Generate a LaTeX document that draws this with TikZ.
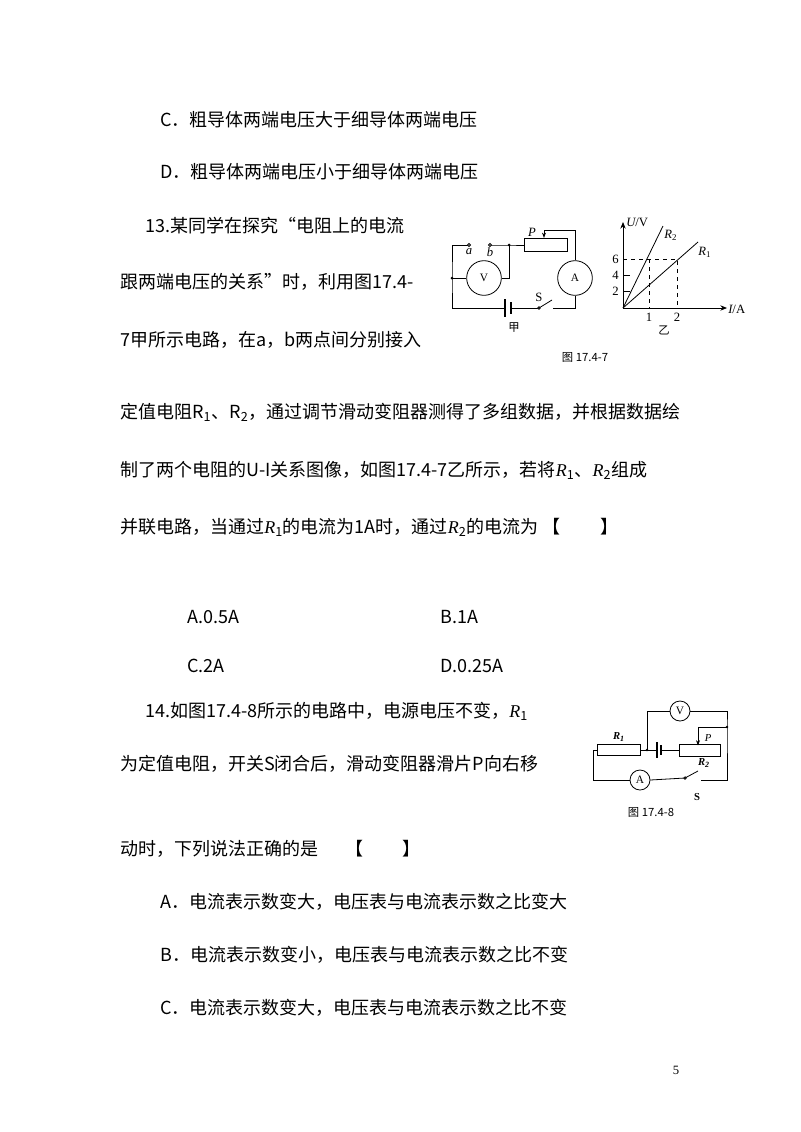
\documentclass[tikz,border=0pt]{standalone}
\usepackage{fontspec}
\setmainfont{Noto Sans CJK SC}
\newfontfamily\lat{Liberation Serif}
\usetikzlibrary{arrows.meta}
\begin{document}
\begin{tikzpicture}[x=0.75pt,y=-0.75pt,
 txt/.style={anchor=west,inner sep=0,font=\fontsize{13.5}{16}\selectfont},
 lab/.style={inner sep=0,font=\lat\fontsize{9.5}{11}\selectfont},
 capt/.style={inner sep=0,font=\fontsize{8.5}{10}\selectfont},
 w/.style={line width=0.6pt},
 meter/.style={circle,draw,line width=0.6pt,inner sep=0,font=\lat\fontsize{8.5}{10}\selectfont}]
\useasboundingbox (0,0) rectangle (800,1132);
\fill[white] (0,0) rectangle (800,1132);
% text
\node[txt] (t1) at (160,120) {C．粗导体两端电压大于细导体两端电压};
\node[txt] (t2) at (160,172) {D．粗导体两端电压小于细导体两端电压};
\node[txt] (t3) at (145,226) {13.某同学在探究“电阻上的电流};
\node[txt] (t4) at (120,282) {跟两端电压的关系”时，利用图17.4-};
\node[txt] (t5) at (120,340) {7甲所示电路，在a，b两点间分别接入};
\node[txt] (t6) at (120,412) {定值电阻R\textsubscript{1}、R\textsubscript{2}，通过调节滑动变阻器测得了多组数据，并根据数据绘};
\node[txt] (t7) at (120,470) {制了两个电阻的U-I关系图像，如图17.4-7乙所示，若将{\lat\itshape R}\textsubscript{1}、{\lat\itshape R}\textsubscript{2}组成};
\node[txt] (t8) at (120,527) {并联电路，当通过{\lat\itshape R}\textsubscript{1}的电流为1A时，通过{\lat\itshape R}\textsubscript{2}的电流为 【\hspace{2.2em}】};
\node[txt] (o1) at (187,617) {A.0.5A};
\node[txt] (o2) at (440,617) {B.1A};
\node[txt] (o3) at (187,666) {C.2A};
\node[txt] (o4) at (440,666) {D.0.25A};
\node[txt] (t9) at (145,711) {14.如图17.4-8所示的电路中，电源电压不变，{\lat\itshape R}\textsubscript{1}};
\node[txt] (t10) at (120,764) {为定值电阻，开关S闭合后，滑动变阻器滑片P向右移};
\node[txt] (t11) at (120,849) {动时，下列说法正确的是\hspace{1.5em}【\hspace{2.2em}】};
\node[txt] (t12) at (160,902) {A．电流表示数变大，电压表与电流表示数之比变大};
\node[txt] (t13) at (160,955) {B．电流表示数变小，电压表与电流表示数之比不变};
\node[txt] (t14) at (160,1008) {C．电流表示数变大，电压表与电流表示数之比不变};
\node[lab] (pg) at (676,1070) {5};
% circuit 1
\node[meter,minimum size=26] (V1) at (484,278) {V};
\node[meter,minimum size=26] (A1) at (575,278) {A};
\node[draw,w,minimum width=32,minimum height=10,inner sep=0] (Rp) at (546,245) {};
\coordinate (ta) at (469,245); \coordinate (tb) at (490,245);
\coordinate (j1) at (509,245); \coordinate (j2) at (452,278);
\coordinate (b1) at (505,308); \coordinate (b2) at (511,308);
\coordinate (s1) at (539,308); \coordinate (s2) at (553,308);
\draw[w] (ta) -- (452,245) -- (j2) -- (452,308) -- (b1);
\draw[w] (j2) -- (V1) (V1) -- (509,278) -- (j1);
\draw[w] (tb) -- (j1) -- (Rp.west);
\draw[w] (b2) -- (s1);
\draw[w] (s2) -- (575,308) -- (A1.south);
\draw[w] (A1.north) -- (575,230) -- (544,230);
\draw[w,-{Stealth[length=4pt,width=3pt]}] (544,230) -- (Rp.north-|544,0);
\draw[line width=1pt] (505,299) -- (505,317);
\draw[line width=1pt] (511,302) -- (511,314);
\draw[w] (s1) -- (552,300);
\fill (j1) circle (1.5); \fill (j2) circle (1.5);
\draw[w,fill=white] (ta) circle (1.5) (tb) circle (1.5) (s1) circle (1.3);
\node[lab,font=\lat\itshape\fontsize{9.5}{11}\selectfont] (la) at (469,252) {a};
\node[lab,font=\lat\itshape\fontsize{9.5}{11}\selectfont] (lb) at (490,252) {b};
\node[lab,font=\lat\itshape\fontsize{9.5}{11}\selectfont] (lP) at (532,232) {P};
\node[lab] (lS) at (539,297) {S};
\node[capt] (jia) at (514,328) {甲};
% graph
\coordinate (O) at (623,308);
\draw[w,-{Stealth[length=5pt,width=4pt]}] (O) -- (623,222);
\draw[w,-{Stealth[length=5pt,width=4pt]}] (O) -- (727,308);
\node[lab,anchor=west] (U) at (626,222) {{\lat\itshape U}/V};
\node[lab,anchor=west] (I) at (728,309) {{\lat\itshape I}/A};
\draw[w] (623,275) -- (630,275) (623,291) -- (630,291);
\node[lab,anchor=east] (n6) at (619,259) {6};
\node[lab,anchor=east] (n4) at (619,275) {4};
\node[lab,anchor=east] (n2) at (619,291) {2};
\node[lab] (x1) at (649,317) {1};
\node[lab] (x2) at (677,317) {2};
\draw[w,dashed] (623,259) -- (677,259) -- (677,308);
\draw[w,dashed] (649,259) -- (649,308);
\draw[w] (O) -- (663,226);
\draw[w] (O) -- (698,242);
\node[lab,anchor=west] (r2) at (664,235) {{\lat\itshape R}\textsubscript{2}};
\node[lab,anchor=west] (r1) at (698,252) {{\lat\itshape R}\textsubscript{1}};
\node[capt] (yi) at (664,330) {乙};
\node[capt] (c1) at (585,357) {图 17.4-7};
% circuit 2
\node[draw,w,minimum width=32,minimum height=8,inner sep=0] (R1) at (619,750) {};
\node[draw,w,minimum width=31,minimum height=9,inner sep=0] (R2) at (700,750) {};
\node[meter,minimum size=15] (V2) at (680,711) {V};
\node[meter,minimum size=15] (A2) at (640,780) {A};
\coordinate (k1) at (647,750);
\coordinate (k2) at (727,727);
\coordinate (q1) at (685,778); \coordinate (q2) at (701,780);
\draw[w] (R1.west) -- (593,750) -- (593,780) -- (A2.west);
\draw[w] (A2.east) -- (q1);
\draw[w] (q1) -- (698,771);
\draw[w] (q2) -- (727,780) -- (k2) -- (727,711) -- (V2.east);
\draw[w] (V2.west) -- (647,711) -- (k1);
\draw[w] (R1.east) -- (k1) -- (657,750);
\draw[w] (661,750) -- (R2.west);
\draw[line width=1pt] (657,742) -- (657,758);
\draw[line width=1pt] (661,745) -- (661,755);
\draw[w] (k2) -- (698,727);
\draw[w,-{Stealth[length=4pt,width=3pt]}] (698,727) -- (698,745.5);
\fill (k1) circle (1.3); \fill (k2) circle (1.3);
\draw[w,fill=white] (q1) circle (1.2);
\node[lab,font=\lat\bfseries\itshape\fontsize{8}{10}\selectfont] (lR1) at (619,737) {R\textsubscript{1}};
\node[lab,font=\lat\bfseries\itshape\fontsize{8}{10}\selectfont] (lR2) at (704,763) {R\textsubscript{2}};
\node[lab,font=\lat\itshape\fontsize{8}{10}\selectfont] (lP2) at (708,738) {P};
\node[lab,font=\lat\bfseries\fontsize{8}{10}\selectfont] (lS2) at (697,797) {S};
\node[capt] (c2) at (651,812) {图 17.4-8};
\end{tikzpicture}
\end{document}
